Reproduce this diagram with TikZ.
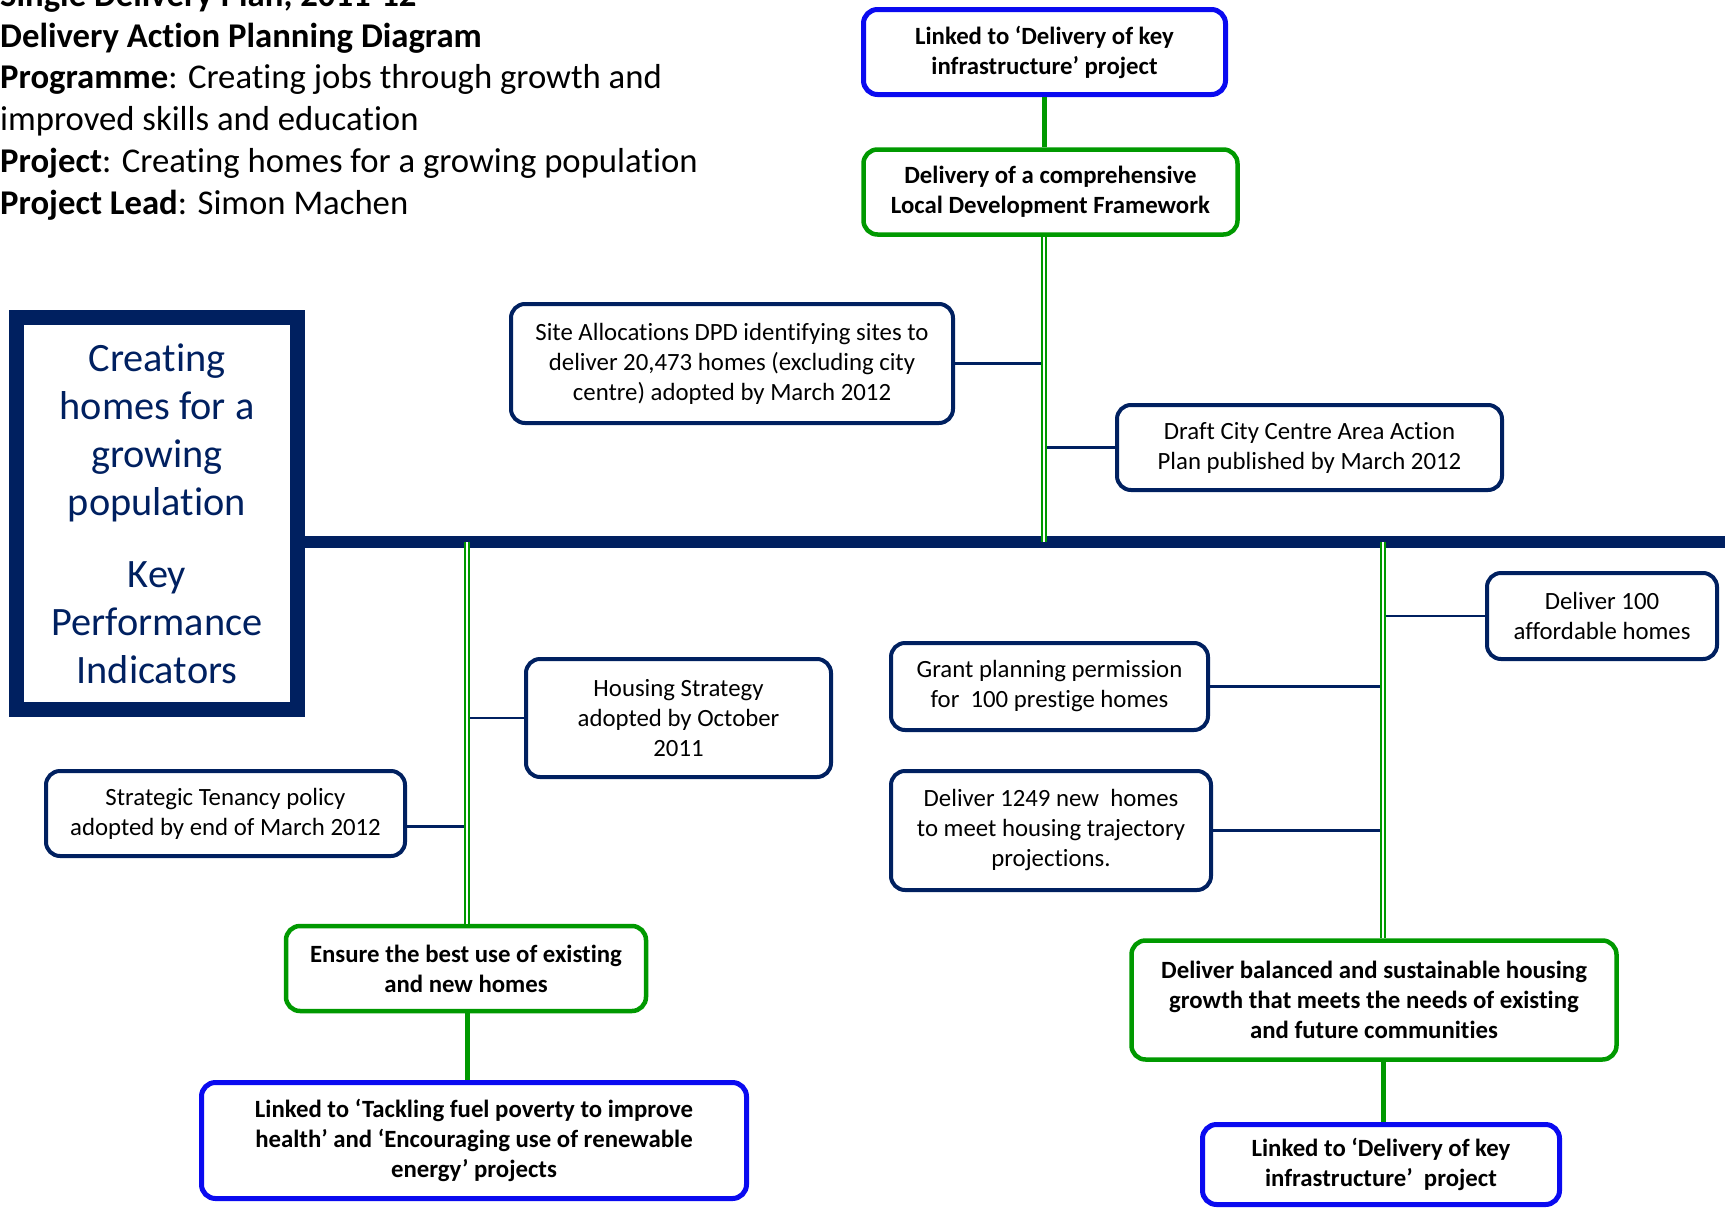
\documentclass[tikz,border=0pt]{standalone}
\usepackage{fontspec}
\setmainfont{Carlito}[Ligatures=NoCommon]
\definecolor{navy}{RGB}{0,32,96}
\definecolor{leafgreen}{RGB}{0,153,0}
\definecolor{linkblue}{RGB}{10,10,240}
\begin{document}
\begin{tikzpicture}[x=1pt,y=-1pt,
  target/.style={draw=navy,line width=4pt,rounded corners=14pt,align=center,inner sep=0pt,font=\fontsize{24.8}{30}\selectfont,execute at begin node={\rule{0pt}{25pt}}},
  aim/.style={draw=leafgreen,line width=4.5pt,rounded corners=14pt,align=center,inner sep=0pt,font=\bfseries\fontsize{24.8}{30}\selectfont,execute at begin node={\rule{0pt}{25pt}}},
  linkbox/.style={aim,draw=linkblue,line width=5pt},
  headline/.style={anchor=base west,inner sep=0pt,font=\fontsize{34.7}{42}\selectfont},
  spine/.style={navy,line width=12pt},
  stub/.style={navy,line width=2.5pt},
  twin/.style={leafgreen,line width=1.3pt,double=white,double distance=2.5pt},
  tie/.style={leafgreen,line width=5pt}]
\useasboundingbox (0,0) rectangle (1725,1210);

\node[headline,font=\bfseries\fontsize{34.7}{42}\selectfont] (head1) at (0,6) {Single Delivery Plan, 2011-12};
\node[headline,font=\bfseries\fontsize{34.7}{42}\selectfont] (head2) at (0,47) {Delivery Action Planning Diagram};
\node[headline] (head3) at (0,88) {\textbf{Programme}: Creating jobs through growth and};
\node[headline] (head4) at (0,130) {improved skills and education};
\node[headline] (head5) at (0,172) {\textbf{Project}: Creating homes for a growing population};
\node[headline] (head6) at (0,214) {\textbf{Project Lead}: Simon Machen};

\node[draw=navy,line width=15pt,minimum width=281pt,minimum height=392pt,inner sep=0pt,
  align=center,text=navy,font=\fontsize{40.3}{48}\selectfont] (kpi) at (157,513.5)
  {Creating\\homes for a\\growing\\population\\[24pt]Key\\Performance\\Indicators};

\node[linkbox,minimum width=362pt,minimum height=85pt] (toplink) at (1044.5,52) {Linked to ‘Delivery of key\\infrastructure’ project};
\node[aim,minimum width=374pt,minimum height=85pt] (ldf) at (1050.5,192) {Delivery of a comprehensive\\Local Development Framework};
\node[target,minimum width=442pt,minimum height=119pt] (site) at (732,363.5) {Site Allocations DPD identifying sites to\\deliver 20,473 homes (excluding city\\centre) adopted by March 2012};
\node[target,minimum width=385pt,minimum height=85pt] (draft) at (1309.5,447.5) {Draft City Centre Area Action\\Plan published by March 2012};

\node[target,minimum width=305pt,minimum height=118pt] (housing) at (678.5,718) {Housing Strategy\\adopted by October\\2011};
\node[target,minimum width=359pt,minimum height=85pt] (tenancy) at (225.5,813.5) {Strategic Tenancy policy\\adopted by end of March 2012};
\node[aim,minimum width=360pt,minimum height=85pt] (ensure) at (466,968.5) {Ensure the best use of existing\\and new homes};
\node[linkbox,minimum width=545pt,minimum height=116pt] (fuel) at (474,1140.5) {Linked to ‘Tackling fuel poverty to improve\\health’ and ‘Encouraging use of renewable\\energy’ projects};

\node[target,minimum width=230pt,minimum height=86pt] (afford) at (1602,616) {Deliver 100\\affordable homes};
\node[target,minimum width=317pt,minimum height=87pt] (grant) at (1049.5,686.5) {Grant planning permission\\for\ \ 100 prestige homes};
\node[target,minimum width=320pt,minimum height=119pt] (newhomes) at (1051,830.5) {Deliver 1249 new\ \ homes\\to meet housing trajectory\\projections.};
\node[aim,minimum width=485pt,minimum height=119pt] (balanced) at (1374,1000) {Deliver balanced and sustainable housing\\growth that meets the needs of existing\\and future communities};
\node[linkbox,minimum width=357pt,minimum height=80pt] (botlink) at (1381,1164.5) {Linked to ‘Delivery of key\\infrastructure’\ \ project};

\coordinate (hubL) at (467,542);
\coordinate (hubC) at (1044,542);
\coordinate (hubR) at (1383,542);
\coordinate (spineEnd) at (1725,542);

\draw[spine] (hubL -| kpi.east) -- (spineEnd);

\draw[stub] (site.east) -- (site.east -| hubC);
\draw[stub] (hubC |- draft.west) -- (draft.west);
\draw[stub] (hubL |- housing.west) -- (housing.west);
\draw[stub] ([yshift=-13pt]tenancy.east) -- ([yshift=-13pt]tenancy.east -| hubL);
\draw[stub] (hubR |- afford.west) -- (afford.west);
\draw[stub] (grant.east) -- (grant.east -| hubR);
\draw[stub] (newhomes.east) -- (newhomes.east -| hubR);

\draw[twin] (hubC) -- (hubC |- ldf.south);
\draw[twin] (hubL) -- (hubL |- ensure.north);
\draw[twin] (hubR) -- (hubR |- balanced.north);

\draw[tie] (toplink.south) -- (toplink.south |- ldf.north);
\draw[tie] (ensure.south -| hubL) -- (fuel.north -| hubL);
\draw[tie] (balanced.south -| hubR) -- (botlink.north -| hubR);
\end{tikzpicture}
\end{document}
